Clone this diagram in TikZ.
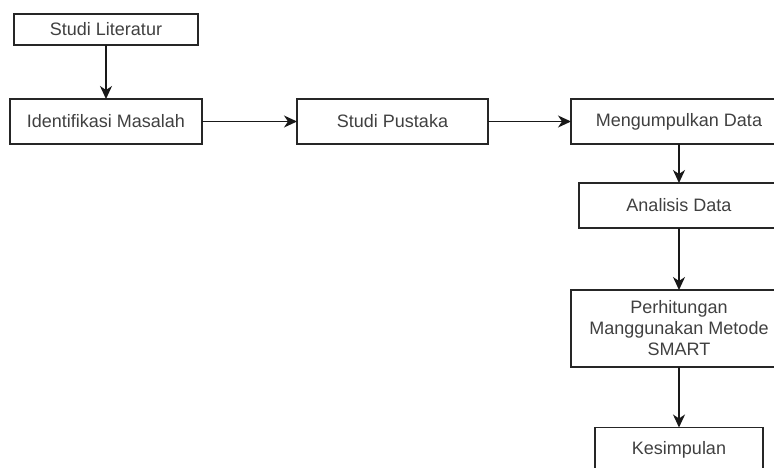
\documentclass[tikz,border=0pt]{standalone}
\usepackage{fontspec}
\setmainfont{Liberation Sans}
\usetikzlibrary{arrows.meta}
\tikzset{epais/.style={line width=1.4pt}}
\newcommand{\etape}[5]{\node[boite, minimum width=#3, minimum height=#4] (#1) at (#2) {#5}}
\newcommand{\fleche}[2]{\draw[lien] (#1) -- (#2)}

\begin{document}
\begin{tikzpicture}[x=1pt, y=-1pt,
	boite/.style={draw=black!85, epais, inner sep=0pt, outer sep=0pt, align=center,
		text=black!75, font=\fontsize{18}{21}\selectfont},
	lien/.style={draw=black!90, epais, -{Stealth[length=13pt, width=12pt, inset=4pt]}}]
	\useasboundingbox (0,0) rectangle (774,467);
%Top row
	\etape{lit}{106,29.5}{184pt}{31pt}{Studi Literatur};
	\etape{ident}{106,121.5}{192pt}{45pt}{Identifikasi Masalah};
	\etape{pustaka}{392.5,121.5}{191pt}{45pt}{Studi Pustaka};
	\etape{kumpul}{679,121.5}{216pt}{45pt}{Mengumpulkan Data};
%Right column
	\etape{analisis}{679,205.5}{200pt}{45pt}{Analisis Data};
	\etape{hitung}{679,328.5}{216pt}{77pt}{Perhitungan\\Manggunakan Metode\\SMART};
	\etape{simpul}{679,450}{168pt}{45pt}{Kesimpulan};
%Arrows
	\fleche{lit}{ident};
	\fleche{ident}{pustaka};
	\fleche{pustaka}{kumpul};
	\fleche{kumpul}{analisis};
	\fleche{analisis}{hitung};
	\fleche{hitung}{simpul};
\end{tikzpicture}
\end{document}
